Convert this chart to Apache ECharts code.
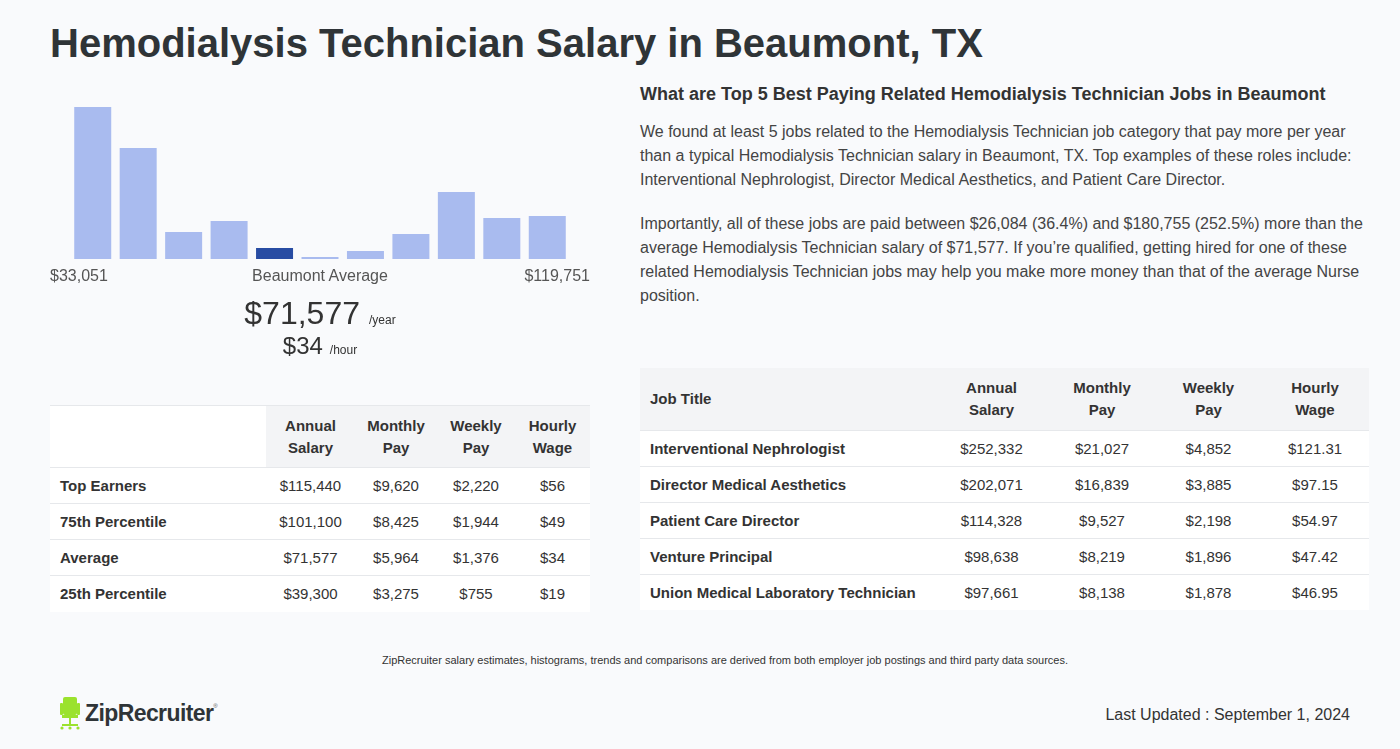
<!DOCTYPE html>
<html><head><meta charset="utf-8">
<script src="https://cdn.jsdelivr.net/npm/echarts@6/dist/echarts.min.js"></script>
<style>
html,body{margin:0;padding:0;}
body{width:1400px;height:749px;background:#f9fafc;font-family:"Liberation Sans",Arial,sans-serif;color:#2f3437;position:relative;overflow:hidden;}
.abs{position:absolute;}
h1{position:absolute;left:50px;top:21px;margin:0;font-size:40px;font-weight:bold;color:#2f3437;white-space:nowrap;}
#hist{position:absolute;left:50px;top:90px;width:540px;height:180px;}
.lbl{font-size:16px;color:#555;top:267px;}
table{border-collapse:collapse;position:absolute;font-size:15px;color:#333;table-layout:fixed;}
td,th{padding:0;text-align:center;}
th{font-weight:bold;line-height:22px;}
td.t{text-align:left;padding-left:10px;font-weight:bold;}
tbody tr{height:36px;background:#fff;border-top:1px solid #e6e8eb;}
#lt{left:50px;top:405px;width:540px;border-top:1px solid #e6e8eb;}
#lt thead tr{height:62px;}
#rt{left:640px;top:368px;width:729px;}
#rt thead tr{height:62px;background:#f3f4f6;}
#rh{left:640px;top:84px;font-size:18px;font-weight:bold;color:#333;white-space:nowrap;}
.para{left:640px;width:730px;font-size:16px;line-height:24px;color:#444;margin:0;}
</style></head><body>
<h1 id="title"></h1>
<div id="hist"></div>
<div class="abs lbl" id="lmin" style="left:50px"></div>
<div class="abs lbl" id="lmid" style="left:220px;width:200px;text-align:center"></div>
<div class="abs lbl" id="lmax" style="right:810px;text-align:right"></div>
<div class="abs" style="left:120px;width:400px;text-align:center;top:295px;white-space:nowrap;color:#333">
  <span id="yr" style="font-size:32px"></span><span style="font-size:12px;margin-left:9px">/year</span>
</div>
<div class="abs" style="left:120px;width:400px;text-align:center;top:332px;white-space:nowrap;color:#333">
  <span id="hr" style="font-size:24px"></span><span style="font-size:12px;margin-left:7px">/hour</span>
</div>
<table id="lt"><thead><tr></tr></thead><tbody></tbody></table>
<div class="abs" id="rh"></div>
<p class="abs para" id="p1" style="top:120px"></p>
<p class="abs para" id="p2" style="top:212px"></p>
<table id="rt"><thead><tr></tr></thead><tbody></tbody></table>
<div class="abs" id="note" style="left:0;width:1450px;text-align:center;top:654px;font-size:11px;color:#333"></div>
<div class="abs" style="left:59px;top:695px;height:36px;display:flex;align-items:center">
<svg width="22" height="34" viewBox="0 0 22 34"><rect x="4" y="1" width="14" height="18" rx="2" fill="#9be22d"/><rect x="1" y="7" width="3" height="12" rx="1" fill="#9be22d"/><rect x="18" y="7" width="3" height="12" rx="1" fill="#9be22d"/><rect x="3" y="19" width="16" height="3" fill="#9be22d"/><rect x="10" y="22" width="2" height="7" fill="#9be22d"/><rect x="3" y="28" width="16" height="2" fill="#9be22d"/><circle cx="3" cy="32" r="1.6" fill="#9be22d"/><circle cx="19" cy="32" r="1.6" fill="#9be22d"/><circle cx="11" cy="32" r="1.6" fill="#9be22d"/></svg>
<span id="logo" style="font-size:23px;font-weight:bold;color:#2f3437;margin-left:4px;letter-spacing:-0.6px"></span><span style="font-size:6px;color:#555;margin-top:-14px">®</span>
</div>
<div class="abs" id="upd" style="right:50px;top:706px;font-size:16px;color:#333"></div>
<script>
// ---- data ----
const titleText = "Hemodialysis Technician Salary in Beaumont, TX";
const histBins = ["1","2","3","4","5","6","7","8","9","10","11"];
const histCounts = [152, 111, 27, 38, 11, 2, 8, 25, 67, 41, 43];
const highlightBin = 4;
const rangeMin = "$33,051";
const rangeMax = "$119,751";
const midLabel = "Beaumont Average";
const avgYear = "$71,577";
const avgHour = "$34";
const leftCols = ["", "Annual<br>Salary", "Monthly<br>Pay", "Weekly<br>Pay", "Hourly<br>Wage"];
const leftRows = ["Top Earners", "75th Percentile", "Average", "25th Percentile"];
const leftAnnual = ["$115,440", "$101,100", "$71,577", "$39,300"];
const leftMonthly = ["$9,620", "$8,425", "$5,964", "$3,275"];
const leftWeekly = ["$2,220", "$1,944", "$1,376", "$755"];
const leftHourly = ["$56", "$49", "$34", "$19"];
const rightHeading = "What are Top 5 Best Paying Related Hemodialysis Technician Jobs in Beaumont";
const para1 = "We found at least 5 jobs related to the Hemodialysis Technician job category that pay more per year than a typical Hemodialysis Technician salary in Beaumont, TX. Top examples of these roles include: Interventional Nephrologist, Director Medical Aesthetics, and Patient Care Director.";
const para2 = "Importantly, all of these jobs are paid between $26,084 (36.4%) and $180,755 (252.5%) more than the average Hemodialysis Technician salary of $71,577. If you\u2019re qualified, getting hired for one of these related Hemodialysis Technician jobs may help you make more money than that of the average Nurse position.";
const rightCols = ["Job Title", "Annual<br>Salary", "Monthly<br>Pay", "Weekly<br>Pay", "Hourly<br>Wage"];
const jobTitles = ["Interventional Nephrologist", "Director Medical Aesthetics", "Patient Care Director", "Venture Principal", "Union Medical Laboratory Technician"];
const jobAnnual = ["$252,332", "$202,071", "$114,328", "$98,638", "$97,661"];
const jobMonthly = ["$21,027", "$16,839", "$9,527", "$8,219", "$8,138"];
const jobWeekly = ["$4,852", "$3,885", "$2,198", "$1,896", "$1,878"];
const jobHourly = ["$121.31", "$97.15", "$54.97", "$47.42", "$46.95"];
const noteText = "ZipRecruiter salary estimates, histograms, trends and comparisons are derived from both employer job postings and third party data sources.";
const updatedText = "Last Updated : September 1, 2024";

// ---- text ----
document.getElementById('title').textContent = titleText;
document.getElementById('lmin').textContent = rangeMin;
document.getElementById('lmax').textContent = rangeMax;
document.getElementById('lmid').textContent = midLabel;
document.getElementById('yr').textContent = avgYear;
document.getElementById('hr').textContent = avgHour;
document.getElementById('rh').textContent = rightHeading;
document.getElementById('p1').textContent = para1;
document.getElementById('p2').textContent = para2;
document.getElementById('note').textContent = noteText;
document.getElementById('upd').textContent = updatedText;
document.getElementById('logo').textContent = "ZipRecruiter";

// left table
const lw = [216, 89, 82, 78, 75];
let h = document.querySelector('#lt thead tr');
leftCols.forEach((c, i) => {
  const th = document.createElement('th');
  th.innerHTML = c; th.style.width = lw[i] + 'px';
  th.style.background = i === 0 ? '#ffffff' : '#f3f4f6';
  h.appendChild(th);
});
let b = document.querySelector('#lt tbody');
leftRows.forEach((r, i) => {
  const tr = document.createElement('tr');
  [r, leftAnnual[i], leftMonthly[i], leftWeekly[i], leftHourly[i]].forEach((v, j) => {
    const td = document.createElement('td'); td.textContent = v;
    if (j === 0) td.className = 't';
    tr.appendChild(td);
  });
  b.appendChild(tr);
});
// right table
const rw = [295, 113, 108, 105, 108];
h = document.querySelector('#rt thead tr');
rightCols.forEach((c, i) => {
  const th = document.createElement('th');
  th.innerHTML = c;
  if (i === 0) { th.style.textAlign = 'left'; th.style.paddingLeft = '10px'; th.style.width = (rw[i] - 10) + 'px'; }
  else th.style.width = rw[i] + 'px';
  h.appendChild(th);
});
b = document.querySelector('#rt tbody');
jobTitles.forEach((r, i) => {
  const tr = document.createElement('tr');
  [r, jobAnnual[i], jobMonthly[i], jobWeekly[i], jobHourly[i]].forEach((v, j) => {
    const td = document.createElement('td'); td.textContent = v;
    if (j === 0) td.className = 't';
    tr.appendChild(td);
  });
  b.appendChild(tr);
});

// ---- histogram ----
const chart = echarts.init(document.getElementById('hist'), null, {renderer: 'canvas'});
chart.setOption({
  animation: false,
  grid: {left: 20, top: 17, width: 500, height: 152},
  xAxis: {type: 'category', data: histBins, show: false},
  yAxis: {type: 'value', min: 0, max: Math.max(...histCounts), show: false},
  series: [{
    type: 'bar', barWidth: 37,
    data: histCounts.map((v, i) => ({value: v, itemStyle: {color: i === highlightBin ? '#284ca3' : '#a9bbef'}}))
  }]
});
</script>
</body></html>
